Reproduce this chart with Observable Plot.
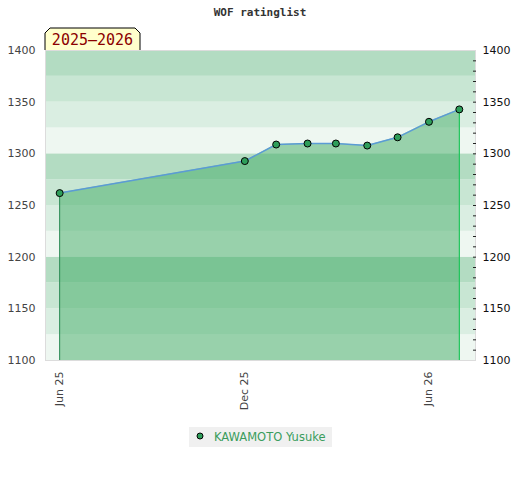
<!DOCTYPE html>
<html>
<head>
<meta charset="utf-8">
<script src="https://cdn.jsdelivr.net/npm/d3@7"></script>
<script src="https://cdn.jsdelivr.net/npm/@observablehq/plot@0.6"></script>
<style>
  html, body { margin: 0; padding: 0; background: #fff; }
  #wrap { position: relative; width: 520px; height: 480px; }
  #title { position: absolute; top: 6px; left: 0; width: 520px; text-align: center;
    font: bold 11px "DejaVu Sans Mono", monospace; color: #333; }
  #legend { position: absolute; left: 189px; top: 427px; width: 143px; height: 20px;
    background: #f0f0f0; font: 11.5px "DejaVu Sans", sans-serif; color: #3a9d5d; }
</style>
</head>
<body>
<div id="wrap">
  <div id="chart"></div>
  <div id="title"></div>
  <div id="legend"></div>
</div>
<script>
const chartTitle = "WOF ratinglist";
const seasonLabel = "2025–2026";
const playerName = "KAWAMOTO Yusuke";
const dates = ["2025-06-01","2025-12-01","2026-01-01","2026-02-01","2026-03-01","2026-04-01","2026-05-01","2026-06-01","2026-07-01"];
const ratings = [1262, 1293, 1309, 1310, 1310, 1308, 1316, 1331, 1343];
const xDomain = ["2025-05-18", "2026-07-17"];
const yDomain = [1100, 1400];
const yTicks = [1100, 1150, 1200, 1250, 1300, 1350, 1400];
const yMinorTicks = d3.range(1110, 1400, 10);
const xTicks = ["2025-06-01", "2025-12-01", "2026-06-01"];
const bandLows = d3.range(1100, 1400, 25);
const bandColors = ["#eef7f1", "#daeee2", "#c8e6d3", "#b3dcc2"];

const data = dates.map((d, i) => ({date: new Date(d), rating: ratings[i]}));
const bands = bandLows.map((lo, i) => ({lo, hi: lo + 25, color: bandColors[i % 4]}));
const first = data[0], last = data[data.length - 1];
const intFmt = d3.format("d");

const chart = Plot.plot({
  width: 520, height: 480,
  marginTop: 50, marginBottom: 120, marginLeft: 45, marginRight: 45,
  style: {fontFamily: "DejaVu Sans, sans-serif", fontSize: "11px", background: "transparent"},
  x: {type: "utc", domain: xDomain.map(d => new Date(d))},
  y: {domain: yDomain},
  marks: [
    Plot.rect(bands, {y1: "lo", y2: "hi", fill: d => d.color}),
    Plot.areaY(data, {x: "date", y1: yDomain[0], y2: "rating", fill: "rgb(66,172,102)", fillOpacity: 0.5, stroke: "none"}),
    Plot.ruleX([first], {x: "date", y1: yDomain[0], y2: "rating", stroke: "#2e8b57", strokeWidth: 1}),
    Plot.ruleX([last], {x: "date", y1: yDomain[0], y2: "rating", stroke: "#1fc45a", strokeWidth: 1.3}),
    Plot.line(data, {x: "date", y: "rating", stroke: "#5b9bd5", strokeWidth: 1.5}),
    Plot.dot(data, {x: "date", y: "rating", r: 3.5, fill: "#2e9e5a", stroke: "#000", strokeWidth: 1}),
    Plot.frame({stroke: "#dcdcdc"}),
    Plot.axisY({anchor: "left", ticks: yTicks, tickFormat: intFmt, tickSize: 0, tickPadding: 10, fill: "#444", label: null}),
    Plot.axisY({anchor: "right", ticks: yTicks, tickFormat: intFmt, tickSize: 0, tickPadding: 7, fill: "#111", label: null}),
    Plot.axisY({anchor: "right", ticks: yMinorTicks, tickSize: -3, tickFormat: () => "", stroke: "#222", label: null}),
    Plot.axisX({ticks: xTicks.map(d => new Date(d)), tickFormat: d3.utcFormat("%b %y"), tickRotate: -90,
      tickSize: 0, tickPadding: 11, fill: "#444", label: null})
  ]
});
document.getElementById("chart").appendChild(chart);
document.getElementById("title").textContent = chartTitle;

const xs = chart.scale("x"), ys = chart.scale("y");
const svg = d3.select(chart);

// season badge on top of the plot frame
const frameLeft = xs.range[0], frameTop = ys.range[1];
const g = svg.append("g");
const bw = 95, bh = 22, c = 5;
g.append("path")
  .attr("d", `M${frameLeft},${frameTop} V${frameTop - bh + c} L${frameLeft + c},${frameTop - bh} H${frameLeft + bw - c} L${frameLeft + bw},${frameTop - bh + c} V${frameTop}`)
  .attr("fill", "#ffffcc").attr("stroke", "#000").attr("stroke-width", 1);
g.append("text").attr("x", frameLeft + bw / 2).attr("y", frameTop - 5).attr("text-anchor", "middle")
  .attr("font-family", "DejaVu Sans Mono, monospace").attr("font-size", 15).attr("fill", "#8b0000")
  .text(seasonLabel);

// legend
const legend = d3.select("#legend");
const ls = legend.append("svg").attr("width", 143).attr("height", 20).style("position", "absolute").style("left", 0).style("top", 0);
ls.append("circle").attr("cx", 11).attr("cy", 9).attr("r", 3).attr("fill", "#2e9e5a").attr("stroke", "#000").attr("stroke-width", 1);
ls.append("text").attr("x", 25).attr("y", 13.5).attr("font-family", "DejaVu Sans, sans-serif").attr("font-size", 11.5)
  .attr("fill", "#3a9d5d").text(playerName);
</script>
</body>
</html>
